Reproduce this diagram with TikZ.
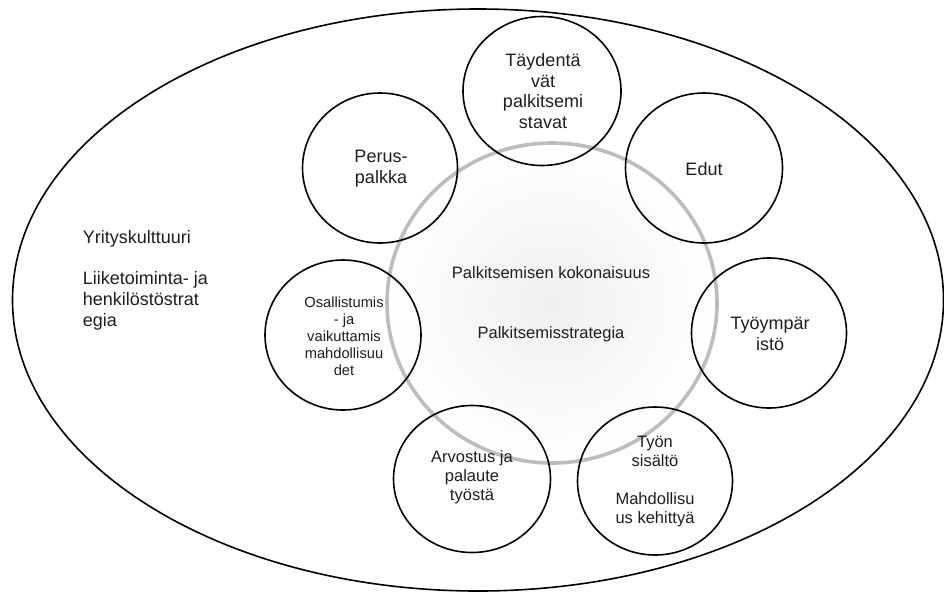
\documentclass[tikz,border=0pt]{standalone}
\usepackage{fontspec}
\setmainfont{Liberation Sans}
\usetikzlibrary{shapes.geometric}
\begin{document}
\begin{tikzpicture}[x=1pt,y=-1pt,
  bubble/.style={ellipse, draw=black, line width=1.6pt, inner sep=0pt},
  lbl/.style={align=center, inner sep=0pt, text=black!88},
  big/.style={font=\fontsize{18}{20.7}\selectfont},
  mid/.style={font=\fontsize{16.5}{19}\selectfont},
  small/.style={font=\fontsize{14.7}{17}\selectfont}]
\useasboundingbox (0,0) rectangle (944,592);
\fill[white] (0,0) rectangle (944,592);
% outer ellipse
\node[bubble, minimum width=931pt, minimum height=582pt] (outer) at (478,300) {};
% central gray ring
\node[ellipse, draw=black!26, line width=3.6pt, inner sep=0pt,
      minimum width=330pt, minimum height=320pt,
      inner color=black!6, outer color=white] (ring) at (552,303) {};
% small circles
\node[bubble, minimum width=158pt, minimum height=149pt] (c1) at (542,91) {};
\node[bubble, minimum width=155pt, minimum height=150pt] (c2) at (380,168) {};
\node[bubble, minimum width=157pt, minimum height=150pt] (c3) at (704,168) {};
\node[bubble, minimum width=156pt, minimum height=150pt] (c4) at (343,335) {};
\node[bubble, minimum width=155pt, minimum height=150pt] (c5) at (769,333) {};
\node[bubble, minimum width=157pt, minimum height=147pt] (c6) at (472,479) {};
\node[bubble, minimum width=155pt, minimum height=148pt] (c7) at (655,481) {};
% texts
\node[lbl, big] (t1) at (543,91) {Täydentä\\vät\\palkitsemi\\stavat};
\node[lbl, big] (t2) at (381,169) {Perus-\\palkka};
\node[lbl, big] (t3) at (704,169) {Edut};
\node[lbl, small] (t4) at (344,336) {Osallistumis\\- ja\\vaikuttamis\\mahdollisuu\\det};
\node[lbl, big] (t5) at (770,334) {Työympär\\istö};
\node[lbl, mid] (t6) at (472,477) {Arvostus ja\\palaute\\työstä};
\node[lbl, mid] (t7) at (655,482) {Työn\\sisältö\\[19pt]Mahdollisu\\us kehittyä};
\node[lbl, mid, anchor=base] (tc1) at (551,278.3) {Palkitsemisen kokonaisuus};
\node[lbl, mid, anchor=base] (tc2) at (551,338.3) {Palkitsemisstrategia};
\node[lbl, big, align=left, anchor=north west] (tl) at (82.7,230) {Yrityskulttuuri\\[20.7pt]Liiketoiminta- ja\\henkilöstöstrat\\egia};
\end{tikzpicture}
\end{document}
